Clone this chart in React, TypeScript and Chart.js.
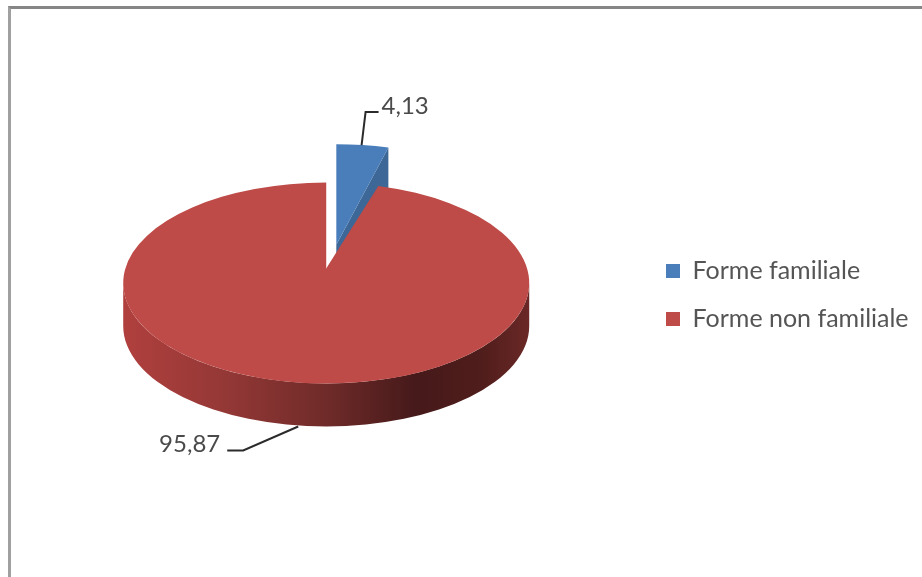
import React, { useEffect, useRef } from "react";
import { Chart, registerables } from "chart.js";

Chart.register(...registerables);

const categories = ["Forme familiale", "Forme non familiale"];
const shares = [4.13, 95.87];
const shareLabels = ["4,13", "95,87"];
const sliceColors = ["#4a7ebb", "#be4b48"];
const FONT = "Lato, 'Open Sans', sans-serif";

const TILT = 0.495;
const DEPTH = 43;
const BLUE_SHIFT = 78;
const APEX_LIFT = 13;

const pie3d = {
  id: "pie3d",
  afterLayout(chart: any) {
    // place the legend block beside the pie
    const lg = chart.legend;
    const w = lg.right - lg.left;
    const h = lg.bottom - lg.top;
    lg.left = 643;
    lg.right = lg.left + w;
    lg.top = 295 - h / 2;
    lg.bottom = lg.top + h;
  },
  beforeDatasetDraw(chart: any) {
    const { ctx } = chart;
    const [blue, red] = chart.getDatasetMeta(0).data;
    const cx = red.x;
    const cy = red.y;
    const r = red.outerRadius;

    // explode the blue slice along its own mid-angle
    const mid = (blue.startAngle + blue.endAngle) / 2;
    blue.x = cx + Math.cos(mid) * BLUE_SHIFT;
    blue.y = cy + Math.sin(mid) * BLUE_SHIFT;

    // cut face of the exploded blue slice
    const ax = blue.x;
    const ay = cy + (blue.y - cy) * TILT;
    const ox = ax + Math.cos(blue.endAngle) * r;
    const oy = ay + Math.sin(blue.endAngle) * r * TILT;
    ctx.save();
    ctx.fillStyle = "#3d6796";
    ctx.beginPath();
    ctx.moveTo(ax, ay);
    ctx.lineTo(ox, oy);
    ctx.lineTo(ox, oy + DEPTH);
    ctx.lineTo(ax, ay + DEPTH);
    ctx.closePath();
    ctx.fill();

    // rim of the red slice
    const g = ctx.createLinearGradient(cx - r, 0, cx + r, 0);
    g.addColorStop(0, "#b0403e");
    g.addColorStop(0.25, "#943836");
    g.addColorStop(0.5, "#6f2b29");
    g.addColorStop(0.72, "#46191a");
    g.addColorStop(0.88, "#4f1d1b");
    g.addColorStop(1, "#6a2826");
    ctx.fillStyle = g;
    ctx.beginPath();
    ctx.ellipse(cx, cy, r, r * TILT, 0, 0, Math.PI);
    ctx.lineTo(cx - r, cy + DEPTH);
    ctx.ellipse(cx, cy + DEPTH, r, r * TILT, 0, Math.PI, 0, true);
    ctx.closePath();
    ctx.fill();
    ctx.restore();

    // squash the library's arcs into the tilted top face
    ctx.save();
    ctx.translate(cx, cy);
    ctx.scale(1, TILT);
    ctx.translate(-cx, -cy);
  },
  afterDatasetDraw(chart: any) {
    const { ctx } = chart;
    ctx.restore();
    const [blue, red] = chart.getDatasetMeta(0).data;
    const cx = red.x;
    const cy = red.y;
    const r = red.outerRadius;
    // perspective: the wedge tip of the red slice sits behind the ellipse centre
    ctx.save();
    ctx.fillStyle = sliceColors[1];
    ctx.beginPath();
    ctx.moveTo(cx - 1, cy - APEX_LIFT);
    ctx.lineTo(cx + Math.cos(red.startAngle) * r, cy + Math.sin(red.startAngle) * r * TILT);
    ctx.lineTo(cx - 1, cy + 10);
    ctx.closePath();
    ctx.fill();
    ctx.restore();

    // data labels with leader lines
    const midB = (blue.startAngle + blue.endAngle) / 2;
    const bx = blue.x + Math.cos(midB) * r;
    const by = cy + (blue.y - cy) * TILT + Math.sin(midB) * r * TILT;
    const fx = cx - 28;
    const fy = cy + r * TILT + DEPTH;
    ctx.save();
    ctx.strokeStyle = "#2b2b2b";
    ctx.lineWidth = 2;
    ctx.beginPath();
    ctx.moveTo(bx - 1, by);
    ctx.lineTo(bx + 3, by - 33);
    ctx.lineTo(bx + 16, by - 33);
    ctx.moveTo(fx, fy);
    ctx.lineTo(fx - 55, fy + 24);
    ctx.lineTo(fx - 71, fy + 24);
    ctx.stroke();
    ctx.fillStyle = "#4a4a4a";
    ctx.font = `24px ${FONT}`;
    ctx.textBaseline = "middle";
    ctx.textAlign = "left";
    ctx.fillText(shareLabels[0], bx + 19, by - 39);
    ctx.textAlign = "right";
    ctx.fillText(shareLabels[1], fx - 78, fy + 18);
    ctx.restore();
  },
};

export default function App() {
  const ref = useRef<HTMLCanvasElement>(null);
  useEffect(() => {
    document.body.style.margin = "0";
    document.body.style.background = "#fff";
    const chart = new Chart(ref.current!, {
      type: "pie",
      data: {
        labels: categories,
        datasets: [
          {
            data: shares,
            backgroundColor: sliceColors,
            borderWidth: 0,
          },
        ],
      },
      options: {
        responsive: false,
        animation: false,
        radius: 203,
        layout: { padding: { left: 6, right: 0, top: 0, bottom: 11 } },
        plugins: {
          tooltip: { enabled: false },
          legend: {
            position: "right",
            labels: {
              boxWidth: 14,
              boxHeight: 14,
              padding: 23,
              color: "#555555",
              font: { family: FONT, size: 25 },
            },
          },
        },
      } as any,
      plugins: [pie3d],
    });
    return () => chart.destroy();
  }, []);
  return (
    <div style={{ position: "absolute", left: 0, top: 0, width: 922, height: 577, overflow: "hidden", background: "#fff" }}>
      <canvas ref={ref} width={922} height={577} style={{ display: "block" }} />
      <div style={{ position: "absolute", left: 8, top: 6, width: 920, height: 600, borderLeft: "3px solid #a0a0a0", borderTop: "3px solid #868686" }} />
    </div>
  );
}
